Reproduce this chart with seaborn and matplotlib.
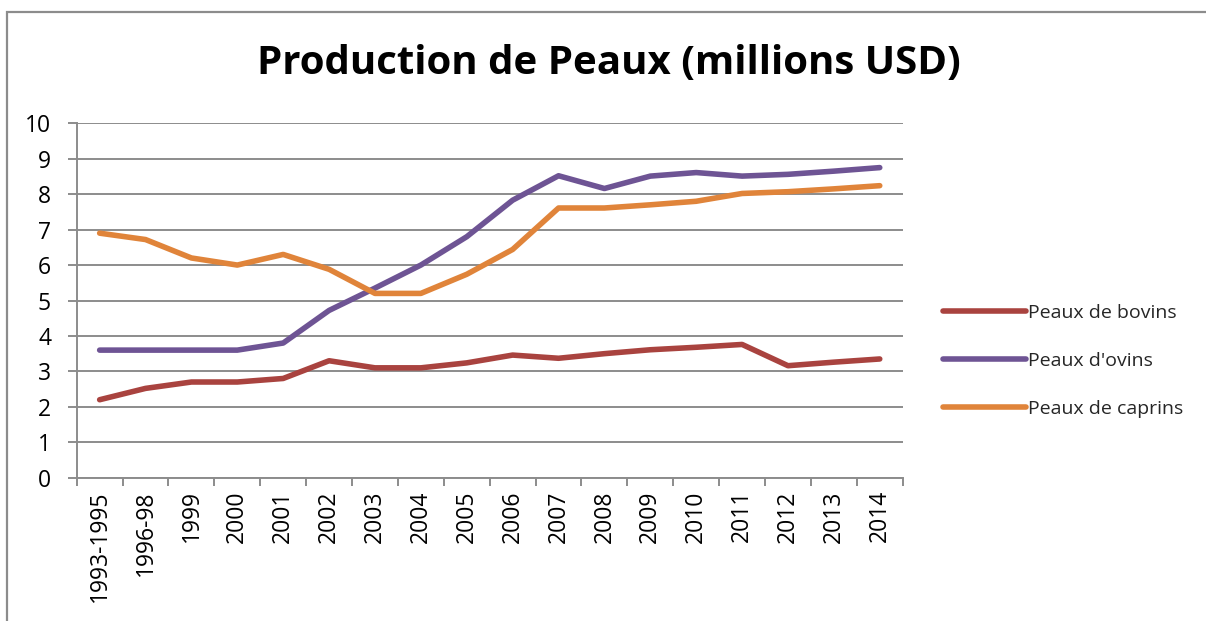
import numpy as np
import pandas as pd
import matplotlib
matplotlib.use("Agg")
import matplotlib.pyplot as plt
import seaborn as sns
from matplotlib.patches import Rectangle
from matplotlib.ticker import FixedLocator

categories = ["1993-1995", "1996-98", "1999", "2000", "2001", "2002", "2003", "2004",
              "2005", "2006", "2007", "2008", "2009", "2010", "2011", "2012", "2013", "2014"]
bovins = [2.2, 2.52, 2.7, 2.7, 2.8, 3.3, 3.1, 3.1, 3.24, 3.46, 3.37, 3.5, 3.61, 3.68, 3.76, 3.16, 3.26, 3.35]
ovins = [3.6, 3.6, 3.6, 3.6, 3.8, 4.72, 5.35, 6.0, 6.8, 7.83, 8.52, 8.16, 8.51, 8.61, 8.51, 8.56, 8.65, 8.75]
caprins = [6.9, 6.72, 6.2, 6.0, 6.3, 5.88, 5.2, 5.2, 5.74, 6.44, 7.61, 7.61, 7.7, 7.8, 8.02, 8.07, 8.15, 8.24]
series_names = ["Peaux de bovins", "Peaux d'ovins", "Peaux de caprins"]
colors = ["#A9433F", "#6E5494", "#E0843A"]
title = "Production de Peaux (millions USD)"

rows = []
for name, vals in zip(series_names, [bovins, ovins, caprins]):
    for i, v in enumerate(vals):
        rows.append({"x": i, "value": v, "serie": name})
df = pd.DataFrame(rows)

sns.set_theme(style="white")
plt.rcParams['font.family'] = ['Open Sans', 'DejaVu Sans']

fig = plt.figure(figsize=(12.06, 6.21), dpi=100)
ax = fig.add_axes([76.7/1206, (621-477.7)/621, (902.7-76.7)/1206, (477.7-123.3)/621])

grid_c = "#8C8C8C"
fs = 16.5
sns.lineplot(data=df, x="x", y="value", hue="serie", palette=colors, linewidth=4,
             ax=ax, legend=True, solid_capstyle="round")

ax.set_xlim(-0.5, len(categories) - 0.5)
ax.set_ylim(0, 10)
ax.set_yticks(range(0, 11))
ax.set_yticklabels([str(v) for v in range(0, 11)], fontsize=fs, color="#000000")
ax.yaxis.grid(True, color=grid_c, linewidth=1.4)
ax.set_axisbelow(True)
ax.xaxis.grid(False)

ax.set_xticks(range(len(categories)))
ax.set_xticklabels(categories, rotation=90, fontsize=fs, color="#000000", va="top")
ax.xaxis.set_minor_locator(FixedLocator(np.arange(-0.5, len(categories), 1.0)))
ax.tick_params(axis="x", which="major", length=0, pad=9)
ax.tick_params(axis="x", which="minor", length=6, width=1.4, color=grid_c, direction="out", bottom=True)
ax.tick_params(axis="y", length=6.5, width=1.4, color=grid_c, direction="out", left=True, pad=12)

for s in ["top", "right"]:
    ax.spines[s].set_visible(False)
for s in ["left", "bottom"]:
    ax.spines[s].set_color(grid_c)
    ax.spines[s].set_linewidth(1.4)
ax.set_xlabel("")
ax.set_ylabel("")

handles, labels = ax.get_legend_handles_labels()
leg = ax.legend(handles, labels, loc="center left", bbox_to_anchor=(935/1206, (621-361)/621),
                bbox_transform=fig.transFigure, frameon=False, fontsize=14,
                handlelength=4.3, handletextpad=0.1, labelspacing=1.55, borderaxespad=0)
for line in leg.get_lines():
    line.set_linewidth(4)
    line.set_solid_capstyle("round")

fig.text(609/1206, (621-63)/621, title, ha="center", va="center", fontsize=29,
         fontweight="bold", color="#000000")

fig.patches.append(Rectangle((7/1206, -0.1), 1.2, (621-11.5)/621 + 0.1, transform=fig.transFigure,
                             fill=False, edgecolor="#8C8C8C", linewidth=1.6))

fig.savefig("out.png", dpi=100)
